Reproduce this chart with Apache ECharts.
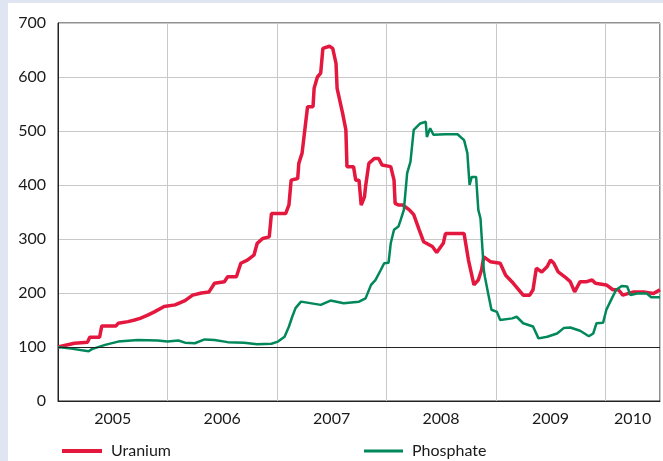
<!DOCTYPE html>
<html>
<head>
<meta charset="utf-8">
<script src="https://cdn.jsdelivr.net/npm/echarts@6/dist/echarts.min.js"></script>
<style>
  html, body { margin: 0; padding: 0; background: #dfe6f2; }
  #chart { position: absolute; left: 8px; top: 3px; width: 655px; height: 458px; background: #fff; }
</style>
</head>
<body>
<div id="chart"></div>
<script>
// values, index (start 2005 = 100), x in fractional years
var uranium = [
  [2005.00,100],[2005.15,107],[2005.27,109],[2005.29,118],[2005.38,118],[2005.40,139],
  [2005.53,139],[2005.55,144],[2005.64,147],[2005.70,150],[2005.75,153],[2005.82,159],
  [2005.88,165],[2005.97,175],[2006.07,178],[2006.16,186],[2006.23,196],[2006.31,200],
  [2006.38,202],[2006.43,218],[2006.52,221],[2006.55,230],[2006.63,230],[2006.67,255],
  [2006.73,261],[2006.79,270],[2006.82,292],[2006.87,301],[2006.93,304],[2006.95,347],
  [2007.08,347],[2007.11,363],[2007.13,409],[2007.19,412],[2007.20,440],[2007.23,459],
  [2007.28,545],[2007.33,545],[2007.34,579],[2007.37,600],[2007.40,607],[2007.42,653],
  [2007.48,657],[2007.51,653],[2007.54,625],[2007.55,579],[2007.60,533],[2007.63,502],
  [2007.64,434],[2007.70,434],[2007.72,409],[2007.75,409],[2007.77,363],[2007.80,378],
  [2007.81,397],[2007.84,440],[2007.89,449],[2007.93,449],[2007.96,437],[2008.04,434],
  [2008.07,409],[2008.08,366],[2008.11,363],[2008.15,363],[2008.21,354],[2008.25,345],
  [2008.30,317],[2008.34,295],[2008.42,286],[2008.46,275],[2008.52,292],[2008.54,310],
  [2008.71,310],[2008.75,261],[2008.80,215],[2008.84,224],[2008.87,243],[2008.89,267],
  [2008.95,258],[2009.04,255],[2009.09,233],[2009.16,218],[2009.25,196],[2009.31,196],
  [2009.34,206],[2009.37,246],[2009.42,239],[2009.47,249],[2009.50,261],[2009.53,255],
  [2009.57,239],[2009.63,230],[2009.68,221],[2009.72,202],[2009.77,221],[2009.83,221],
  [2009.88,224],[2009.91,218],[2010.01,215],[2010.07,206],[2010.12,206],[2010.16,196],
  [2010.26,202],[2010.35,202],[2010.44,199],[2010.50,206]
];
var phosphate = [
  [2005.00,100],[2005.12,97],[2005.28,92],[2005.31,96],[2005.43,104],[2005.55,110],
  [2005.73,113],[2005.91,112],[2006.00,110],[2006.10,112],[2006.16,108],[2006.25,107],
  [2006.34,114],[2006.43,113],[2006.55,109],[2006.70,108],[2006.82,105],[2006.95,106],
  [2007.01,110],[2007.07,119],[2007.11,138],[2007.14,156],[2007.17,172],[2007.22,184],
  [2007.40,178],[2007.49,186],[2007.61,181],[2007.75,184],[2007.81,190],[2007.86,215],
  [2007.90,224],[2007.95,243],[2007.98,255],[2008.02,256],[2008.04,292],[2008.07,317],
  [2008.11,323],[2008.13,335],[2008.16,354],[2008.19,422],[2008.22,443],[2008.25,502],
  [2008.31,514],[2008.36,517],[2008.37,489],[2008.40,505],[2008.43,493],[2008.54,494],
  [2008.65,494],[2008.71,483],[2008.74,459],[2008.76,400],[2008.78,415],[2008.82,415],
  [2008.84,354],[2008.86,338],[2008.89,243],[2008.90,230],[2008.93,199],[2008.96,169],
  [2009.01,165],[2009.04,150],[2009.15,153],[2009.19,156],[2009.25,144],[2009.34,138],
  [2009.39,116],[2009.47,119],[2009.56,125],[2009.62,135],[2009.68,136],[2009.77,130],
  [2009.85,120],[2009.89,125],[2009.92,144],[2009.98,145],[2010.01,169],[2010.06,190],
  [2010.10,206],[2010.15,213],[2010.20,212],[2010.23,196],[2010.29,199],[2010.38,199],
  [2010.42,192],[2010.50,192]
];
var yearLabels = ['2005','2006','2007','2008','2009','2010'];
var yearLabelPos = [2005.5, 2006.5, 2007.5, 2008.5, 2009.5, 2010.25];
var baseLevel = 100;

var font = 'Lato';
var txt = '#1a1a1a';
var chart = echarts.init(document.getElementById('chart'));
var option = {
  animation: false,
  grid: { left: 50, right: 1, top: 20, bottom: 60, show: true, borderColor: '#222', borderWidth: 1 },
  xAxis: [
    {
      type: 'value', min: 2005, max: 2010.5, interval: 1,
      axisLine: { lineStyle: { color: '#222', width: 1 } },
      axisTick: { show: false },
      axisLabel: { show: false },
      splitLine: { show: true, lineStyle: { color: '#c8c8c8', width: 1 } }
    },
    {
      type: 'value', min: 2005, max: 2010.5, interval: 0.25, position: 'bottom', offset: 0,
      axisLine: { show: false }, axisTick: { show: false }, splitLine: { show: false },
      axisLabel: {
        color: txt, fontFamily: font, fontSize: 16, margin: 10,
        showMinLabel: true, showMaxLabel: true,
        formatter: function (v) {
          for (var i = 0; i < yearLabelPos.length; i++) {
            if (Math.abs(v - yearLabelPos[i]) < 1e-6) return yearLabels[i];
          }
          return '';
        }
      }
    }
  ],
  yAxis: {
    type: 'value', min: 0, max: 700, interval: 100,
    axisLine: { show: true, lineStyle: { color: '#222', width: 1 } },
    axisTick: { show: false },
    axisLabel: { color: txt, fontFamily: font, fontSize: 16, margin: 12 },
    splitLine: { lineStyle: { color: '#c8c8c8', width: 1 } }
  },
  legend: [
    {
      data: [{ name: 'Uranium', icon: 'rect' }],
      left: 49, top: 435, itemWidth: 40, itemHeight: 4,
      textStyle: { color: txt, fontFamily: font, fontSize: 16, padding: [0, 0, 0, 4] }
    },
    {
      data: [{ name: 'Phosphate', icon: 'rect' }],
      left: 351, top: 435, itemWidth: 39, itemHeight: 3,
      textStyle: { color: txt, fontFamily: font, fontSize: 16, padding: [0, 0, 0, 4] }
    }
  ],
  series: [
    {
      name: 'base', type: 'line', data: [], z: 1, silent: true,
      markLine: {
        silent: true, symbol: 'none', label: { show: false },
        lineStyle: { color: '#222', width: 1, type: 'solid' },
        data: [{ yAxis: baseLevel }]
      }
    },
    {
      name: 'Uranium', type: 'line', data: uranium, showSymbol: false, z: 3,
      lineStyle: { color: '#e4173e', width: 3.5 }, itemStyle: { color: '#e4173e' }
    },
    {
      name: 'Phosphate', type: 'line', data: phosphate, showSymbol: false, z: 4,
      lineStyle: { color: '#00885a', width: 2.5 }, itemStyle: { color: '#00885a' }
    }
  ]
};
chart.setOption(option);
</script>
</body>
</html>
